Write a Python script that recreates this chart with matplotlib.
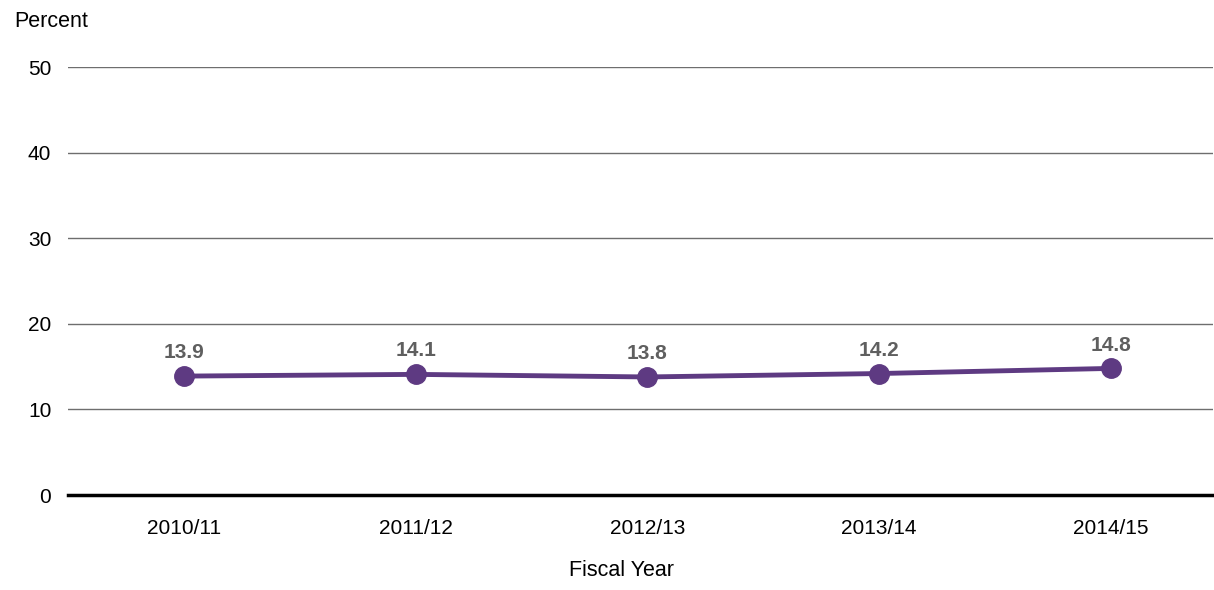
import matplotlib.pyplot as plt

years = ['2010/11', '2011/12', '2012/13', '2013/14', '2014/15']
percent = [13.9, 14.1, 13.8, 14.2, 14.8]
y_ticks = [0, 10, 20, 30, 40, 50]

plt.rcParams['font.family'] = ['Liberation Sans', 'DejaVu Sans']

fig = plt.figure(figsize=(12.14, 5.9), dpi=100)
ax = fig.add_axes([0.056, 0.161, 0.943, 0.725])

x = list(range(len(years)))
ax.plot(x, percent, color='#5E3A82', linewidth=3.5, marker='o',
        markersize=14, zorder=3)

for i, v in zip(x, percent):
    ax.annotate(f'{v}', xy=(i, v), xytext=(0, 10), textcoords='offset points',
                ha='center', va='bottom', fontsize=15, fontweight='bold',
                color='#5F5F5F')

ax.set_xlim(-0.5, 4.44)
ax.set_ylim(0, 50)
ax.set_yticks(y_ticks)
ax.set_xticks(x)
ax.set_xticklabels(years)
ax.tick_params(axis='both', length=0, labelsize=15, colors='black')
ax.tick_params(axis='x', pad=17)
ax.tick_params(axis='y', pad=12)

for t in y_ticks[1:]:
    ax.axhline(t, color='#6E6E6E', linewidth=1, zorder=1)
ax.axhline(0, color='black', linewidth=2.5, zorder=2, clip_on=False)

for s in ax.spines.values():
    s.set_visible(False)

fig.text(0.012, 0.963, 'Percent', fontsize=15.5, ha='left', va='center')
fig.text(0.512, 0.015, 'Fiscal Year', fontsize=15.5, ha='center', va='bottom')

fig.savefig('out.png', dpi=100)
